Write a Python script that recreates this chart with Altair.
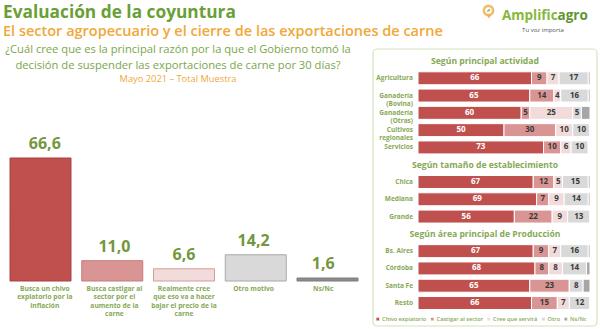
import altair as alt
import pandas as pd

# ---------------- data ----------------
left_keys = ["chivo", "castigar", "cree", "otro", "nsnc"]
left_names = [
    "Busca un chivo\nexpiatorio por la\ninflación",
    "Busca castigar al\nsector por el\naumento de la\ncarne",
    "Realmente cree\nque eso va a hacer\nbajar el precio de la\ncarne",
    "Otro motivo",
    "Ns/Nc",
]
left_values = [66.6, 11.0, 6.6, 14.2, 1.6]
left_value_labels = ["66,6", "11,0", "6,6", "14,2", "1,6"]

series = ["Chivo expiatorio", "Castigar al sector", "Cree que servirá", "Otro", "Ns/Nc"]

section_titles = ["Según principal actividad", "Según tamaño de establecimiento",
                  "Según área principal de Producción"]
rows = ["Agricultura", "Ganadería (Bovina)", "Ganadería (Otras)", "Cultivos regionales", "Servicios",
        "Chica", "Mediana", "Grande",
        "Bs. Aires", "Córdoba", "Santa Fe", "Resto"]
row_labels = ["Agricultura", "Ganadería\n(Bovina)", "Ganadería\n(Otras)", "Cultivos\nregionales", "Servicios",
              "Chica", "Mediana", "Grande",
              "Bs. Aires", "Córdoba", "Santa Fe", "Resto"]
row_section = [0, 0, 0, 0, 0, 1, 1, 1, 2, 2, 2, 2]

chivo = [66, 65, 60, 50, 73, 67, 69, 56, 67, 68, 65, 66]
castigar = [9, 14, 5, 30, 10, 12, 7, 22, 9, 8, 23, 15]
cree = [7, 4, 25, 10, 6, 5, 9, 9, 7, 8, 0, 7]
otro = [17, 16, 5, 10, 10, 15, 14, 13, 16, 14, 8, 12]
nsnc = [1, 1, 5, 0, 0, 1, 1, 0, 1, 2, 4, 0]

# ---------------- styles ----------------
GREEN = "#6a9f36"
GREEN_L = "#86a955"
ORANGE = "#f0a838"
FONT = "Open Sans"
seg_colors = ["#c0504d", "#d99594", "#f2dcdb", "#d9d9d9", "#a6a6a6"]
left_fill = ["#c0504d", "#d99594", "#f2dcdb", "#d9d9d9", "#8c8c8c"]
left_stroke = ["#a84343", "#c77a7a", "#d49a9a", "#a8a8a8", "#7a7a7a"]

# ---------------- tables ----------------
left_df = pd.DataFrame({"key": left_keys, "name": left_names, "value": left_values,
                        "label": left_value_labels, "fill": left_fill, "stroke": left_stroke})

y_domain = []
for s in range(3):
    y_domain.append(f"§{s}")
    y_domain += [r for r, sec in zip(rows, row_section) if sec == s]

recs = []
for i, r in enumerate(rows):
    for j, (sname, vals) in enumerate(zip(series, [chivo, castigar, cree, otro, nsnc])):
        recs.append({"row": r, "serie": sname, "order": j, "value": vals[i]})
right_df = pd.DataFrame(recs)
rowlab_df = pd.DataFrame({"row": rows, "label": row_labels})
sect_df = pd.DataFrame({"row": [f"§{s}" for s in range(3)], "label": section_titles})
one = pd.DataFrame({"d": [0]})

# ---------------- scales ----------------
lx = alt.Scale(domain=left_keys, range=[10, 358], paddingInner=0.15, paddingOuter=0)
ly = alt.Scale(domain=[0, 70], range=[281, 281 - 70 * 1.847])
rx = alt.Scale(domain=[0, 100], range=[418, 590])
ry = alt.Scale(domain=y_domain, range=[52.35, 311.65], paddingInner=0.25, paddingOuter=0.125)

# ---------------- left chart ----------------
left_bars = alt.Chart(left_df).mark_bar(strokeWidth=1).encode(
    x=alt.X("key:N", scale=lx, axis=None, sort=left_keys),
    y=alt.Y("value:Q", scale=ly, axis=None),
    fill=alt.Fill("fill:N", scale=None),
    stroke=alt.Stroke("stroke:N", scale=None),
)
left_vals = alt.Chart(left_df).mark_text(font=FONT, fontWeight="bold", fontSize=16, color="#74963c",
                                         baseline="bottom", dy=-6).encode(
    x=alt.X("key:N", scale=lx, axis=None, sort=left_keys),
    y=alt.Y("value:Q", scale=ly, axis=None),
    text="label:N",
)
left_cats = alt.Chart(left_df).mark_text(font=FONT, fontWeight="bold", fontSize=6.7, color=GREEN_L,
                                         baseline="top", lineBreak="\n", lineHeight=8.3).encode(
    x=alt.X("key:N", scale=lx, axis=None, sort=left_keys),
    y=alt.value(286),
    text="name:N",
)

# ---------------- right panel ----------------
box = alt.Chart(one).mark_rect(fill="#ffffff", stroke="#d3e4bd", strokeWidth=1.2, cornerRadius=4).encode(
    x=alt.value(373), x2=alt.value(597), y=alt.value(49), y2=alt.value(326)
)

stacked = alt.Chart(right_df).transform_stack(
    stack="value", groupby=["row"], sort=[alt.SortField("order", "ascending")], as_=["x0", "x1"]
)
right_bars = stacked.mark_bar(stroke="white", strokeWidth=1).encode(
    y=alt.Y("row:N", scale=ry, axis=None),
    x=alt.X("x0:Q", scale=rx, axis=None),
    x2="x1:Q",
    color=alt.Color("serie:N", scale=alt.Scale(domain=series, range=seg_colors),
                    legend=alt.Legend(orient="none", legendX=375, legendY=316, direction="horizontal",
                                      title=None, symbolType="square", symbolSize=8,
                                      symbolStrokeWidth=0, labelFontSize=5.6, labelFont=FONT,
                                      labelFontWeight=600, labelColor=GREEN_L, columnPadding=2.5,
                                      labelOffset=1.5, padding=0)),
    order=alt.Order("order:Q"),
)
seg_text = stacked.transform_filter(
    (alt.datum.value > 0) & (alt.datum.serie != "Ns/Nc")
).transform_calculate(
    mid="(datum.x0 + datum.x1) / 2",
    tcol="datum.serie == 'Chivo expiatorio' ? 'white' : '#3a3a3a'",
).mark_text(font=FONT, fontWeight="bold", fontSize=8).encode(
    y=alt.Y("row:N", scale=ry, axis=None),
    x=alt.X("mid:Q", scale=rx, axis=None),
    text="value:Q",
    color=alt.Color("tcol:N", scale=None),
)
row_text = alt.Chart(rowlab_df).mark_text(font=FONT, fontWeight="bold", fontSize=6.5, color=GREEN_L,
                                          align="right", lineBreak="\n", lineHeight=8).encode(
    y=alt.Y("row:N", scale=ry, axis=None),
    x=alt.value(413),
    text="label:N",
)
sect_text = alt.Chart(sect_df).mark_text(font=FONT, fontWeight="bold", fontSize=8.6, color=GREEN_L).encode(
    y=alt.Y("row:N", scale=ry, axis=None),
    x=alt.value(485),
    text="label:N",
)

# ---------------- titles & logo ----------------
def txt(s, x, y, size, color, weight="normal", align="left", baseline="alphabetic"):
    return alt.Chart(one).mark_text(text=s, font=FONT, fontSize=size, color=color, fontWeight=weight,
                                    align=align, baseline=baseline).encode(x=alt.value(x), y=alt.value(y))

title = txt("Evaluación de la coyuntura", 3, 18, 17.3, GREEN, "bold")
subtitle = txt("El sector agropecuario y el cierre de las exportaciones de carne", 3, 36, 14.5, ORANGE, 600)
q1 = txt("¿Cuál cree que es la principal razón por la que el Gobierno tomó la", 178, 49.5, 11.2, "#7ca64a",
         align="center", baseline="middle")
q2 = txt("decisión de suspender las exportaciones de carne por 30 días?", 178, 65.5, 11.2, "#7ca64a",
         align="center", baseline="middle")
q3 = txt("Mayo 2021 – Total Muestra", 178, 79, 9.3, ORANGE, align="center", baseline="middle")

ring = alt.Chart(one).mark_point(shape="circle", filled=False, stroke="#f0a030", strokeWidth=2.6, size=85).encode(
    x=alt.value(488.5), y=alt.value(10.5))
tip = alt.Chart(one).mark_point(shape="triangle-down", filled=True, fill="#f0a030", size=16, strokeWidth=0).encode(
    x=alt.value(489), y=alt.value(17))
leaf = alt.Chart(one).mark_point(
    shape="M -0.6 0.6 C -0.6 -0.2 -0.1 -0.7 0.7 -0.7 C 0.7 0.1 0.2 0.6 -0.6 0.6 Z",
    filled=True, fill="#6da33a", size=26, strokeWidth=0).encode(x=alt.value(488.5), y=alt.value(10.5))
logo1 = txt("Amplific", 502, 20, 13.5, "#86b83e", "bold")
logo2 = txt("agro", 557.5, 20, 13.5, "#5f9630", "bold")
logo3 = txt("Tu voz importa", 543, 29.5, 6, "#555555", align="center", baseline="middle")

chart = alt.layer(
    box, left_bars, left_vals, left_cats, right_bars, seg_text, row_text, sect_text,
    title, subtitle, q1, q2, q3, ring, tip, leaf, logo1, logo2, logo3,
).resolve_scale(x="independent", y="independent", color="independent", fill="independent",
                stroke="independent").properties(
    width=600, height=329, autosize=alt.AutoSizeParams(type="none"), padding=0, background="white"
).configure_view(stroke=None)

chart.save("out.html", embed_options={"renderer": "svg", "actions": False})
